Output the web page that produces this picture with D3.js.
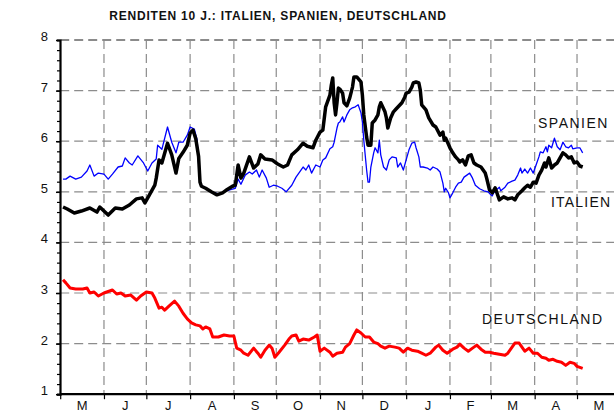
<!DOCTYPE html>
<html><head><meta charset="utf-8">
<script src="https://cdn.jsdelivr.net/npm/d3@7"></script>
<style>
html,body{margin:0;padding:0;background:#fff;}
svg{display:block;font-family:"Liberation Sans",Arial,sans-serif;}
</style></head>
<body><svg id="c" width="614" height="412"></svg>
<script>
const title = "RENDITEN 10 J.: ITALIEN, SPANIEN, DEUTSCHLAND";
const monthLabels = ["M","J","J","A","S","O","N","D","J","F","M","A","M"];
const yTicks = [1,2,3,4,5,6,7,8];
const seriesNames = ["SPANIEN","ITALIEN","DEUTSCHLAND"];

const italien = [
["2011-05-03",4.70],["2011-05-06",4.66],["2011-05-11",4.58],["2011-05-16",4.62],["2011-05-22",4.68],["2011-05-27",4.60],["2011-05-29",4.70],
["2011-06-04",4.54],["2011-06-09",4.68],["2011-06-14",4.66],["2011-06-19",4.74],["2011-06-24",4.86],["2011-06-28",4.88],["2011-06-30",4.78],
["2011-07-03",4.93],["2011-07-07",5.13],["2011-07-08",5.27],["2011-07-10",5.63],["2011-07-12",5.57],["2011-07-16",5.96],["2011-07-19",5.73],
["2011-07-22",5.37],["2011-07-24",5.66],["2011-07-27",5.78],["2011-07-30",5.92],["2011-08-01",6.16],["2011-08-03",6.22],["2011-08-05",6.05],
["2011-08-07",5.70],["2011-08-08",5.19],["2011-08-09",5.11],["2011-08-12",5.07],["2011-08-16",5.00],["2011-08-20",4.94],["2011-08-24",4.98],
["2011-08-27",5.04],["2011-08-31",5.11],["2011-09-02",5.13],["2011-09-04",5.53],["2011-09-06",5.27],["2011-09-08",5.37],["2011-09-12",5.69],
["2011-09-15",5.47],["2011-09-18",5.55],["2011-09-20",5.73],["2011-09-23",5.65],["2011-09-28",5.63],["2011-10-02",5.55],["2011-10-06",5.49],
["2011-10-09",5.53],["2011-10-12",5.73],["2011-10-16",5.83],["2011-10-20",5.96],["2011-10-23",5.90],["2011-10-27",5.87],["2011-10-29",6.02],
["2011-11-01",6.18],["2011-11-03",6.22],["2011-11-05",6.68],["2011-11-08",6.91],["2011-11-09",7.11],["2011-11-10",7.25],["2011-11-11",6.76],
["2011-11-12",6.52],["2011-11-13",6.76],["2011-11-14",7.05],["2011-11-15",7.03],["2011-11-17",6.95],["2011-11-18",6.76],["2011-11-20",6.70],
["2011-11-22",6.85],["2011-11-24",7.07],["2011-11-25",7.27],["2011-11-27",7.27],["2011-11-30",7.17],["2011-12-01",6.91],["2011-12-02",6.52],
["2011-12-04",6.08],["2011-12-05",5.92],["2011-12-07",5.92],["2011-12-08",6.36],["2011-12-10",6.42],["2011-12-12",6.52],["2011-12-13",6.68],
["2011-12-14",6.76],["2011-12-17",6.58],["2011-12-18",6.46],["2011-12-19",6.26],["2011-12-21",6.46],["2011-12-23",6.58],["2011-12-25",6.64],
["2011-12-27",6.70],["2011-12-29",6.76],["2011-12-31",6.87],["2012-01-01",6.95],["2012-01-03",6.97],["2012-01-05",7.07],["2012-01-06",7.15],
["2012-01-08",7.17],["2012-01-10",7.15],["2012-01-11",7.01],["2012-01-12",6.72],["2012-01-15",6.62],["2012-01-17",6.46],["2012-01-20",6.32],
["2012-01-22",6.28],["2012-01-25",6.12],["2012-01-27",6.18],["2012-01-28",6.02],["2012-01-29",6.06],["2012-02-01",5.87],["2012-02-03",5.77],
["2012-02-05",5.69],["2012-02-07",5.63],["2012-02-08",5.59],["2012-02-10",5.63],["2012-02-12",5.53],["2012-02-14",5.71],["2012-02-16",5.73],
["2012-02-18",5.57],["2012-02-20",5.53],["2012-02-23",5.49],["2012-02-26",5.37],["2012-02-27",5.27],["2012-02-29",5.04],["2012-03-02",4.98],
["2012-03-04",5.08],["2012-03-07",4.84],["2012-03-10",4.90],["2012-03-13",4.86],["2012-03-16",4.88],["2012-03-18",4.84],["2012-03-20",4.94],
["2012-03-23",5.02],["2012-03-25",5.08],["2012-03-27",5.13],["2012-03-29",5.09],["2012-03-31",5.19],["2012-04-02",5.17],["2012-04-04",5.33],
["2012-04-06",5.43],["2012-04-08",5.57],["2012-04-09",5.49],["2012-04-11",5.67],["2012-04-13",5.47],["2012-04-15",5.53],["2012-04-17",5.57],
["2012-04-19",5.67],["2012-04-21",5.77],["2012-04-23",5.73],["2012-04-25",5.67],["2012-04-27",5.69],["2012-04-29",5.57],["2012-05-01",5.59],
["2012-05-03",5.51],["2012-05-05",5.49]
];

const spanien = [
["2011-05-03",5.25],["2011-05-05",5.25],["2011-05-08",5.31],["2011-05-12",5.25],["2011-05-16",5.29],["2011-05-20",5.41],["2011-05-22",5.53],
["2011-05-25",5.31],["2011-05-28",5.37],["2011-06-01",5.35],["2011-06-04",5.25],["2011-06-07",5.35],["2011-06-11",5.49],["2011-06-14",5.51],
["2011-06-16",5.67],["2011-06-19",5.57],["2011-06-21",5.53],["2011-06-25",5.71],["2011-06-29",5.57],["2011-07-02",5.41],["2011-07-05",5.57],
["2011-07-08",5.65],["2011-07-09",5.92],["2011-07-12",5.84],["2011-07-16",6.28],["2011-07-19",5.98],["2011-07-22",5.77],["2011-07-24",5.98],
["2011-07-27",5.98],["2011-07-30",6.12],["2011-08-01",6.28],["2011-08-04",6.24],["2011-08-06",6.02],["2011-08-07",5.55],["2011-08-08",5.23],
["2011-08-09",5.13],["2011-08-12",5.07],["2011-08-16",5.00],["2011-08-21",4.96],["2011-08-25",5.00],["2011-08-29",5.04],["2011-09-02",5.07],
["2011-09-04",5.25],["2011-09-06",5.15],["2011-09-09",5.33],["2011-09-12",5.39],["2011-09-14",5.35],["2011-09-17",5.43],["2011-09-19",5.29],
["2011-09-21",5.43],["2011-09-24",5.27],["2011-09-26",5.09],["2011-09-29",5.13],["2011-10-02",5.11],["2011-10-05",5.07],["2011-10-08",5.00],
["2011-10-12",5.13],["2011-10-15",5.29],["2011-10-20",5.49],["2011-10-22",5.43],["2011-10-24",5.53],["2011-10-26",5.37],["2011-10-29",5.53],
["2011-11-01",5.49],["2011-11-03",5.63],["2011-11-05",5.67],["2011-11-08",5.85],["2011-11-10",5.89],["2011-11-11",5.98],["2011-11-13",6.26],
["2011-11-14",6.36],["2011-11-15",6.38],["2011-11-17",6.48],["2011-11-18",6.38],["2011-11-20",6.52],["2011-11-22",6.62],["2011-11-24",6.66],
["2011-11-26",6.68],["2011-11-28",6.72],["2011-11-30",6.56],["2011-12-01",6.38],["2011-12-02",6.02],["2011-12-04",5.43],["2011-12-05",5.19],
["2011-12-06",5.19],["2011-12-07",5.49],["2011-12-09",5.77],["2011-12-10",5.87],["2011-12-12",5.77],["2011-12-13",6.02],["2011-12-14",5.73],
["2011-12-16",5.49],["2011-12-18",5.43],["2011-12-20",5.63],["2011-12-22",5.69],["2011-12-25",5.67],["2011-12-26",5.49],["2011-12-28",5.57],
["2011-12-30",5.43],["2012-01-01",5.63],["2012-01-03",5.83],["2012-01-05",5.96],["2012-01-07",5.98],["2012-01-08",5.87],["2012-01-10",5.69],
["2012-01-11",5.49],["2012-01-13",5.49],["2012-01-16",5.47],["2012-01-18",5.43],["2012-01-20",5.49],["2012-01-23",5.45],["2012-01-25",5.39],
["2012-01-27",5.17],["2012-01-28",5.00],["2012-01-29",5.07],["2012-01-31",4.98],["2012-02-01",4.88],["2012-02-03",4.98],["2012-02-05",5.09],
["2012-02-07",5.17],["2012-02-09",5.19],["2012-02-11",5.29],["2012-02-13",5.33],["2012-02-15",5.37],["2012-02-17",5.27],["2012-02-19",5.13],
["2012-02-22",5.06],["2012-02-25",5.02],["2012-02-28",5.00],["2012-03-01",4.94],["2012-03-02",4.92],["2012-03-03",4.98],["2012-03-05",5.04],
["2012-03-07",5.09],["2012-03-08",5.02],["2012-03-11",5.09],["2012-03-13",5.17],["2012-03-16",5.21],["2012-03-18",5.23],["2012-03-20",5.33],
["2012-03-22",5.47],["2012-03-23",5.37],["2012-03-25",5.45],["2012-03-27",5.37],["2012-03-29",5.47],["2012-03-31",5.37],["2012-04-02",5.53],
["2012-04-04",5.69],["2012-04-05",5.79],["2012-04-07",5.77],["2012-04-09",5.89],["2012-04-10",5.79],["2012-04-11",5.92],["2012-04-13",5.87],
["2012-04-15",6.06],["2012-04-17",5.89],["2012-04-19",5.83],["2012-04-21",5.98],["2012-04-23",5.89],["2012-04-25",5.87],["2012-04-27",5.92],
["2012-04-28",5.85],["2012-05-01",5.87],["2012-05-03",5.87],["2012-05-05",5.77]
];

const deutschland = [
["2011-05-03",3.26],["2011-05-05",3.20],["2011-05-08",3.10],["2011-05-12",3.08],["2011-05-17",3.08],["2011-05-20",3.10],["2011-05-22",3.00],
["2011-05-25",3.02],["2011-05-28",2.94],["2011-06-01",3.00],["2011-06-05",3.04],["2011-06-07",3.06],["2011-06-10",2.98],["2011-06-13",3.00],
["2011-06-16",2.94],["2011-06-20",2.96],["2011-06-24",2.86],["2011-06-27",2.94],["2011-07-01",3.02],["2011-07-05",3.00],["2011-07-07",2.90],
["2011-07-10",2.70],["2011-07-12",2.72],["2011-07-14",2.66],["2011-07-17",2.74],["2011-07-21",2.84],["2011-07-24",2.74],["2011-07-27",2.60],
["2011-07-30",2.49],["2011-08-02",2.41],["2011-08-05",2.37],["2011-08-08",2.35],["2011-08-10",2.29],["2011-08-12",2.33],["2011-08-15",2.29],
["2011-08-17",2.13],["2011-08-21",2.13],["2011-08-25",2.17],["2011-08-29",2.15],["2011-09-01",2.15],["2011-09-03",1.91],["2011-09-06",1.87],
["2011-09-08",1.81],["2011-09-11",1.77],["2011-09-15",1.91],["2011-09-18",1.81],["2011-09-20",1.73],["2011-09-23",1.87],["2011-09-26",1.97],
["2011-09-28",1.91],["2011-09-30",1.73],["2011-10-03",1.83],["2011-10-07",1.97],["2011-10-10",2.09],["2011-10-12",2.15],["2011-10-15",2.17],
["2011-10-17",2.05],["2011-10-20",2.09],["2011-10-24",2.07],["2011-10-28",2.13],["2011-10-30",2.17],["2011-11-01",1.85],["2011-11-04",1.91],
["2011-11-08",1.83],["2011-11-10",1.75],["2011-11-13",1.81],["2011-11-17",1.83],["2011-11-19",1.93],["2011-11-22",2.00],["2011-11-25",2.17],
["2011-11-27",2.27],["2011-11-30",2.21],["2011-12-03",2.13],["2011-12-06",2.13],["2011-12-09",2.03],["2011-12-12",2.00],["2011-12-14",1.95],
["2011-12-17",1.91],["2011-12-20",1.95],["2011-12-24",1.93],["2011-12-27",1.91],["2011-12-30",1.83],["2012-01-02",1.91],["2012-01-05",1.87],
["2012-01-09",1.85],["2012-01-12",1.81],["2012-01-15",1.77],["2012-01-18",1.81],["2012-01-22",1.93],["2012-01-24",1.97],["2012-01-27",1.87],
["2012-01-30",1.81],["2012-02-03",1.89],["2012-02-06",1.93],["2012-02-08",1.99],["2012-02-11",1.91],["2012-02-14",1.85],["2012-02-17",1.91],
["2012-02-20",1.97],["2012-02-23",1.89],["2012-02-26",1.83],["2012-02-29",1.83],["2012-03-03",1.81],["2012-03-07",1.79],["2012-03-11",1.77],
["2012-03-13",1.81],["2012-03-16",1.93],["2012-03-18",2.01],["2012-03-21",2.01],["2012-03-23",1.93],["2012-03-25",1.85],["2012-03-28",1.91],
["2012-03-31",1.81],["2012-04-03",1.81],["2012-04-06",1.73],["2012-04-09",1.71],["2012-04-11",1.67],["2012-04-14",1.69],["2012-04-17",1.65],
["2012-04-20",1.63],["2012-04-23",1.57],["2012-04-26",1.63],["2012-04-29",1.61],["2012-05-01",1.55],["2012-05-05",1.51]
];

const parse = d3.timeParse("%Y-%m-%d");
const svg = d3.select("#c");
const x = d3.scaleTime().domain([new Date(2011,4,1), new Date(2012,5,1)]).range([60.2, 620.8]);
const y = d3.scaleLinear().domain([1,8]).range([394.2, 40]);
const monthStarts = d3.timeMonth.range(new Date(2011,4,1), new Date(2012,5,1));
const xRight = 614;

// gridlines
const grid = svg.append("g");
grid.selectAll("line.h").data(yTicks.filter(v=>v>1)).join("line")
  .attr("x1", x.range()[0]).attr("x2", xRight)
  .attr("y1", d=>y(d)).attr("y2", d=>y(d))
  .attr("stroke", d=> d===8 ? "#666" : "#8c8c8c").attr("stroke-width", d=> d===8 ? 1.6 : 1.2)
  .attr("stroke-dasharray","9,5");
grid.selectAll("line.v").data(monthStarts.slice(1)).join("line")
  .attr("x1", d=>x(d)).attr("x2", d=>x(d))
  .attr("y1", y(8)).attr("y2", y(1))
  .attr("stroke","#8c8c8c").attr("stroke-width",1.2).attr("stroke-dasharray","9,5");

// series
const line = d3.line().x(d=>x(parse(d[0]))).y(d=>y(d[1]));
svg.append("path").datum(spanien).attr("d", line).attr("fill","none").attr("stroke","#0000ff").attr("stroke-width",1.3).attr("stroke-linejoin","round");
svg.append("path").datum(italien).attr("d", line).attr("fill","none").attr("stroke","#000").attr("stroke-width",3.5).attr("stroke-linejoin","round");
svg.append("path").datum(deutschland).attr("d", line).attr("fill","none").attr("stroke","#ff0000").attr("stroke-width",3).attr("stroke-linejoin","round");

// y axis
const minor = d3.range(1, 8.001, 0.2);
const yAxMinor = svg.append("g").attr("transform","translate(60,0)")
  .call(d3.axisLeft(y).tickValues(minor).tickSize(3).tickFormat(""));
yAxMinor.select(".domain").attr("stroke-width",2.2);
yAxMinor.selectAll(".tick line").attr("stroke-width",1.2);
const yAx = svg.append("g").attr("transform","translate(60,0)")
  .call(d3.axisLeft(y).tickValues(yTicks).tickSize(4).tickPadding(8).tickFormat(d3.format("d")));
yAx.select(".domain").remove();
yAx.selectAll(".tick line").attr("stroke-width",1.5);
yAx.selectAll(".tick text").attr("font-size",13).attr("font-family","Liberation Sans, Arial, sans-serif")
  .attr("fill","#111").attr("dy","0").attr("y",0.5);

// x axis
const xAx = svg.append("g").attr("transform",`translate(0,${y(1)})`)
  .call(d3.axisBottom(x).tickValues(monthStarts.concat([new Date(2012,5,1)])).tickSize(5).tickFormat(""));
xAx.select(".domain").attr("d", `M${x.range()[0]},0H${xRight}`).attr("stroke-width",2.2);
xAx.selectAll(".tick line").attr("stroke-width",1.2);

svg.append("g").selectAll("text").data(monthStarts).join("text")
  .attr("x", (d,i)=> (x(d) + x(d3.timeMonth.offset(d,1)))/2)
  .attr("y", 410)
  .attr("text-anchor","middle").attr("font-size",13).attr("fill","#111")
  .text((d,i)=>monthLabels[i]);

// title
svg.append("text").attr("x",278).attr("y",20).attr("text-anchor","middle")
  .attr("font-size",12).attr("font-weight","bold").attr("fill","#111")
  .attr("letter-spacing","0.8")
  .text(title);

// series labels
const lab = [
  {t:seriesNames[0], x:538, y:128, ls:1.5},
  {t:seriesNames[1], x:551, y:207, ls:1.2},
  {t:seriesNames[2], x:482, y:324, ls:1.5}
];
svg.append("g").selectAll("text").data(lab).join("text")
  .attr("x", d=>d.x).attr("y", d=>d.y).attr("font-size",14).attr("letter-spacing", d=>d.ls)
  .attr("fill","#111").text(d=>d.t);
</script>
</body></html>
